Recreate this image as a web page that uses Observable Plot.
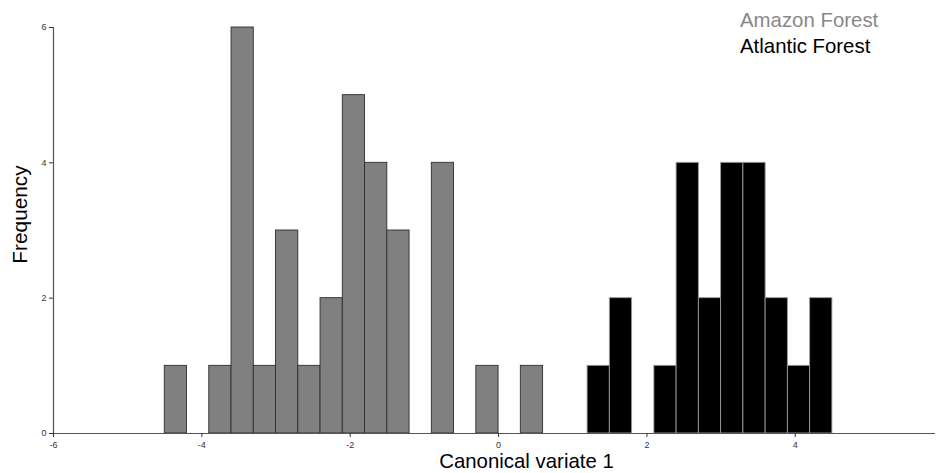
<!DOCTYPE html>
<html>
<head>
<meta charset="utf-8">
<script src="https://cdn.jsdelivr.net/npm/d3@7"></script>
<script src="https://cdn.jsdelivr.net/npm/@observablehq/plot@0.6"></script>
<style>
  html, body { margin: 0; padding: 0; background: #fff; }
  #wrap { position: relative; width: 942px; height: 473px; font-family: "Liberation Sans", Arial, sans-serif; }
  .leg { position: absolute; left: 740px; font-size: 20.4px; line-height: 20.4px; white-space: nowrap; }
</style>
</head>
<body>
<div id="wrap">
  <div class="leg" style="top:10px;color:#888888;">Amazon Forest</div>
  <div class="leg" style="top:36px;color:#000000;">Atlantic Forest</div>
</div>
<script>
const binWidth = 0.3;
const amazonStarts = [-4.5, -3.9, -3.6, -3.3, -3.0, -2.7, -2.4, -2.1, -1.8, -1.5, -0.9, -0.3, 0.3];
const amazonCounts = [1, 1, 6, 1, 3, 1, 2, 5, 4, 3, 4, 1, 1];
const atlanticStarts = [1.2, 1.5, 2.1, 2.4, 2.7, 3.0, 3.3, 3.6, 3.9, 4.2];
const atlanticCounts = [1, 2, 1, 4, 2, 4, 4, 2, 1, 2];
const xTicks = [-6, -4, -2, 0, 2, 4];
const yTicks = [0, 2, 4, 6];

const amazon = amazonStarts.map((s, i) => ({x1: s, x2: +(s + binWidth).toFixed(2), y: amazonCounts[i]}));
const atlantic = atlanticStarts.map((s, i) => ({x1: s, x2: +(s + binWidth).toFixed(2), y: atlanticCounts[i]}));

const chart = Plot.plot({
  width: 942,
  height: 473,
  marginLeft: 53,
  marginRight: 7,
  marginTop: 27,
  marginBottom: 40,
  style: {fontFamily: "'Liberation Sans', Arial, sans-serif", background: "transparent"},
  x: {domain: [-6, 5.89]},
  y: {domain: [0, 6]},
  marks: [
    Plot.rectY(amazon, {x1: "x1", x2: "x2", y: "y", fill: "#808080", stroke: "#2e2e2e", strokeWidth: 0.9, inset: 0}),
    Plot.rectY(atlantic, {x1: "x1", x2: "x2", y: "y", fill: "#000000", stroke: "#9a9a9a", strokeWidth: 0.9, inset: 0}),
    Plot.ruleY([0], {stroke: "#555", strokeWidth: 1.2}),
    Plot.ruleX([-6], {y1: 0, y2: 6, stroke: "#555", strokeWidth: 1.2}),
    Plot.axisX({ticks: xTicks, tickFormat: d => String(d), tickSize: 4, tickPadding: 4, fontSize: 9, color: "#333", label: null}),
    Plot.axisY({ticks: yTicks, tickFormat: d => String(d), tickSize: 4, tickPadding: 3, fontSize: 9, color: "#333", label: null}),
    Plot.text(["Canonical variate 1"], {frameAnchor: "bottom", dx: 32, dy: 28, fontSize: 20.4, fill: "#000", lineAnchor: "middle"}),
    Plot.text(["Frequency"], {frameAnchor: "left", textAnchor: "middle", lineAnchor: "middle", dx: -33.5, dy: -16, rotate: -90, fontSize: 20.8, fill: "#000"})
  ]
});
chart.style.position = "absolute";
chart.style.left = "0px";
chart.style.top = "0px";
document.getElementById("wrap").prepend(chart);
</script>
</body>
</html>
